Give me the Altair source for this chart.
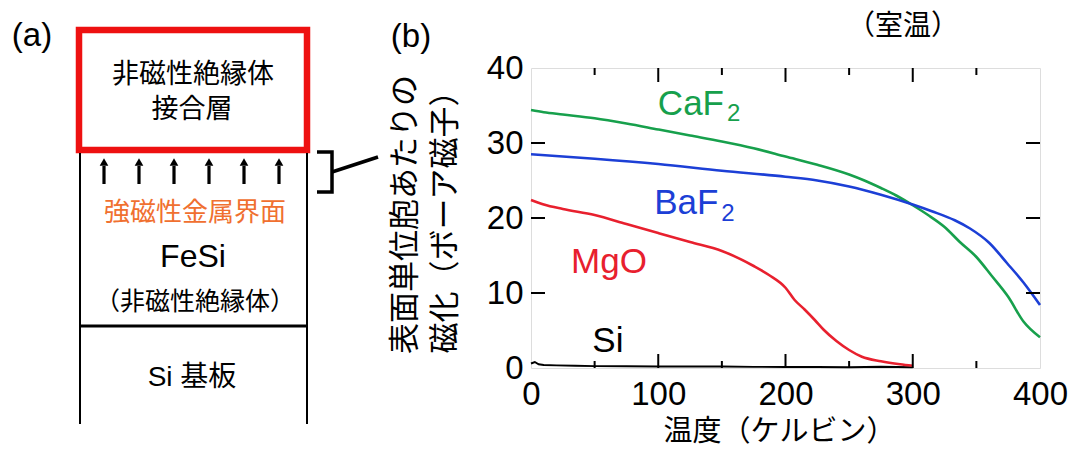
import altair as alt
import pandas as pd

# ---------------- panel (b) data ----------------
caf2_T = [0, 10, 25, 50, 75, 100, 125, 150, 175, 200, 225, 250, 262, 275, 287, 300,
          312, 325, 337, 350, 362, 375, 387, 400]
caf2_M = [34.4, 34.1, 33.8, 33.3, 32.6, 31.8, 31.0, 30.2, 29.3, 28.2, 27.1, 25.8, 25.0,
          24.0, 23.0, 21.7, 20.4, 18.8, 16.8, 14.8, 12.3, 9.5, 6.2, 4.1]

baf2_T = [0, 25, 50, 100, 150, 200, 225, 250, 275, 300, 315, 333, 345, 360, 374, 387, 400]
baf2_M = [28.5, 28.2, 27.9, 27.2, 26.3, 25.5, 25.0, 24.2, 23.1, 21.8, 20.9, 19.7, 18.6,
          16.7, 14.0, 11.4, 8.4]

mgo_T = [0, 10, 25, 50, 75, 100, 125, 150, 175, 187, 200, 207, 215, 223, 230, 240, 250,
         260, 275, 290, 300]
mgo_M = [22.4, 21.8, 21.2, 20.4, 19.2, 18.0, 16.8, 15.6, 13.6, 12.4, 10.7, 9.1, 7.8, 6.4,
         5.1, 3.6, 2.4, 1.5, 0.9, 0.5, 0.3]

si_T = [0, 3, 6, 10, 20, 35, 50, 75, 100, 125, 150, 175, 200, 225, 250, 275, 300]
si_M = [0.6, 0.8, 0.5, 0.4, 0.35, 0.3, 0.25, 0.25, 0.2, 0.2, 0.2, 0.15, 0.15, 0.15, 0.1,
        0.15, 0.1]

series_names = ["CaF2", "BaF2", "MgO", "Si"]
series_colors = ["#17a04c", "#1c3fd6", "#e8202e", "#000000"]

label_text = ["CaF", "BaF", "MgO", "Si"]
label_series = ["CaF2", "BaF2", "MgO", "Si"]
label_T = [99.7, 96.8, 31.5, 48.2]
label_M = [33.8, 20.6, 12.7, 2.2]

sub_text = ["2", "2"]
sub_series = ["CaF2", "BaF2"]
sub_T = [154.0, 149.5]
sub_M = [32.9, 19.6]

x_ticks = [0, 100, 200, 300, 400]
y_ticks = [0, 10, 20, 30, 40]
x_major_inner = [100, 200, 300]
x_minor_inner = [50, 150, 250, 350]
y_major_inner = [10, 20, 30]

x_title = "温度（ケルビン）"
y_title = ["表面単位胞あたりの", "磁化（ボーア磁子）"]

# ---------------- panel (a) schematic (page coordinates) ----------------
diag_text = ["(a)", "(b)", "非磁性絶縁体", "接合層", "強磁性金属界面", "FeSi",
             "（非磁性絶縁体）", "Si 基板", "（室温）"]
diag_tx = [32, 411, 193, 192, 195, 193, 195, 192, 903]
diag_ty = [36, 37, 75, 110, 213, 257, 302, 378, 27]
diag_fs = [33, 33, 27, 27, 26, 32, 25, 28, 28]
diag_col = ["#000000", "#000000", "#000000", "#000000", "#f07030", "#000000",
            "#000000", "#000000", "#000000"]

# plain rules: x, y, x2, y2, width
rule_x = [80, 307, 80]
rule_y = [153, 153, 326]
rule_x2 = [80, 307, 307]
rule_y2 = [424, 424, 326]
rule_w = [2, 2, 3]

arrow_x = [104, 139, 174, 209, 244, 279]
arrow_bottom = 184
arrow_top = 166
arrow_head = 162

box_x, box_y, box_x2, box_y2 = 79, 30, 307, 150

bracket_x = [317, 332, 332, 317]
bracket_y = [152, 152, 192, 192]
conn_x = [332, 378]
conn_y = [172, 157]

OX, OY = 531, 68   # page position of plot origin
W, H = 509, 300

FONT = "Liberation Sans, Arial, Noto Sans CJK JP"

# ---------------- build frames ----------------
rows = []
for name, Ts, Ms in zip(series_names, [caf2_T, baf2_T, mgo_T, si_T],
                        [caf2_M, baf2_M, mgo_M, si_M]):
    for t, m in zip(Ts, Ms):
        rows.append({"series": name, "T": t, "M": m})
df_lines = pd.DataFrame(rows)

color_scale = alt.Scale(domain=series_names, range=series_colors)
x_scale = alt.Scale(domain=[0, 400], nice=False, zero=False)
y_scale = alt.Scale(domain=[0, 40], nice=False)

x_axis = alt.Axis(values=x_ticks, ticks=False, domain=False, grid=False,
                  labelFont=FONT, labelFontSize=33, labelColor="black", labelPadding=10,
                  labelFlush=False, title=x_title, titleFont=FONT, titleFontSize=29,
                  titleFontWeight="normal", titleColor="black", titleBaseline="middle",
                  titleX=248, titleY=63)
y_axis = alt.Axis(values=y_ticks, ticks=False, domain=False, grid=False,
                  labelFont=FONT, labelFontSize=33, labelColor="black", labelPadding=8,
                  labelFlush=False, title=y_title, titleFont=FONT, titleFontSize=31,
                  titleFontWeight="normal", titleColor="black", titleAngle=270,
                  titleBaseline="middle", titleAlign="center", titleLineHeight=40,
                  titleX=-126, titleY=146)

lines_si = alt.Chart(df_lines[df_lines.series == "Si"]).mark_line(strokeWidth=2).encode(
    x=alt.X("T:Q", scale=x_scale, axis=x_axis),
    y=alt.Y("M:Q", scale=y_scale, axis=y_axis),
    color=alt.Color("series:N", scale=color_scale, legend=None),
)
lines = alt.Chart(df_lines[df_lines.series != "Si"]).mark_line(
    strokeWidth=2.6, interpolate="monotone").encode(
    x=alt.X("T:Q", scale=x_scale),
    y=alt.Y("M:Q", scale=y_scale),
    color=alt.Color("series:N", scale=color_scale, legend=None),
    detail="series:N",
)

df_lab = pd.DataFrame({"text": label_text, "series": label_series, "T": label_T, "M": label_M})
labels = alt.Chart(df_lab).mark_text(font=FONT, fontSize=35, align="left",
                                     baseline="alphabetic").encode(
    x=alt.X("T:Q", scale=x_scale), y=alt.Y("M:Q", scale=y_scale),
    text="text:N", color=alt.Color("series:N", scale=color_scale, legend=None))

df_sub = pd.DataFrame({"text": sub_text, "series": sub_series, "T": sub_T, "M": sub_M})
subs = alt.Chart(df_sub).mark_text(font=FONT, fontSize=24, align="left",
                                   baseline="alphabetic").encode(
    x=alt.X("T:Q", scale=x_scale), y=alt.Y("M:Q", scale=y_scale),
    text="text:N", color=alt.Color("series:N", scale=color_scale, legend=None))

# inward ticks
def xticks(vals, y0, y1):
    return alt.Chart(pd.DataFrame({"T": vals})).mark_rule(color="black", strokeWidth=2).encode(
        x=alt.X("T:Q", scale=x_scale), y=alt.value(y0), y2=alt.value(y1))

def yticks(vals, x0, x1):
    return alt.Chart(pd.DataFrame({"M": vals})).mark_rule(color="black", strokeWidth=2).encode(
        y=alt.Y("M:Q", scale=y_scale), x=alt.value(x0), x2=alt.value(x1))

tick_layers = [
    xticks(x_major_inner, 0, 14), xticks(x_minor_inner, 0, 7),
    xticks(x_major_inner, H, H - 14), xticks(x_minor_inner, H, H - 7),
    yticks(y_major_inner, 0, 14), yticks(y_major_inner, W, W - 14),
]

# ---------------- schematic layers (identity scales, offset to plot origin) ----------------
def px(v):
    return [a - OX for a in v]

def py(v):
    return [a - OY for a in v]

df_dtext = pd.DataFrame({"text": diag_text, "x": px(diag_tx), "y": py(diag_ty),
                         "fs": diag_fs, "c": diag_col})
dtext = alt.Chart(df_dtext).mark_text(font=FONT, align="center", baseline="middle").encode(
    x=alt.X("x:Q", scale=None, axis=None), y=alt.Y("y:Q", scale=None, axis=None),
    text="text:N", size=alt.Size("fs:Q", scale=None, legend=None),
    color=alt.Color("c:N", scale=None, legend=None))

df_rules = pd.DataFrame({"x": px(rule_x), "y": py(rule_y), "x2": px(rule_x2),
                         "y2": py(rule_y2), "w": rule_w})
drules = alt.Chart(df_rules).mark_rule(color="black").encode(
    x=alt.X("x:Q", scale=None, axis=None), y=alt.Y("y:Q", scale=None, axis=None),
    x2="x2:Q", y2="y2:Q", strokeWidth=alt.StrokeWidth("w:Q", scale=None, legend=None))

df_shaft = pd.DataFrame({"x": px(arrow_x), "y": py([arrow_bottom] * len(arrow_x)),
                         "y2": py([arrow_top] * len(arrow_x))})
shafts = alt.Chart(df_shaft).mark_rule(color="black", strokeWidth=3.2).encode(
    x=alt.X("x:Q", scale=None, axis=None), y=alt.Y("y:Q", scale=None, axis=None), y2="y2:Q")

df_head = pd.DataFrame({"x": px(arrow_x), "y": py([arrow_head] * len(arrow_x))})
heads = alt.Chart(df_head).mark_point(shape="triangle-up", filled=True, size=75,
                                      color="black", opacity=1).encode(
    x=alt.X("x:Q", scale=None, axis=None), y=alt.Y("y:Q", scale=None, axis=None))

df_box = pd.DataFrame({"x": px([box_x]), "y": py([box_y]), "x2": px([box_x2]), "y2": py([box_y2])})
box = alt.Chart(df_box).mark_rect(fillOpacity=0, stroke="#ee1111", strokeWidth=6.5).encode(
    x=alt.X("x:Q", scale=None, axis=None), y=alt.Y("y:Q", scale=None, axis=None),
    x2="x2:Q", y2="y2:Q")

brows = []
for i, (a, b) in enumerate(zip(bracket_x, bracket_y)):
    brows.append({"seg": "b", "i": i, "x": a - OX, "y": b - OY})
for i, (a, b) in enumerate(zip(conn_x, conn_y)):
    brows.append({"seg": "c", "i": i, "x": a - OX, "y": b - OY})
df_br = pd.DataFrame(brows)
bracket = alt.Chart(df_br).mark_line(color="black", strokeWidth=3.5, strokeJoin="miter").encode(
    x=alt.X("x:Q", scale=None, axis=None), y=alt.Y("y:Q", scale=None, axis=None),
    detail="seg:N", order="i:Q")

chart = alt.layer(
    lines_si, lines, labels, subs, *tick_layers,
    box, drules, shafts, heads, bracket, dtext,
).properties(
    width=W, height=H,
    autosize=alt.AutoSizeParams(type="none"),
    padding={"left": OX - 8, "top": OY - 8, "right": 29, "bottom": 78},
).configure_view(stroke="black", strokeWidth=2).configure(background="white")

chart.save("out.html", embed_options={"renderer": "svg", "actions": False})
